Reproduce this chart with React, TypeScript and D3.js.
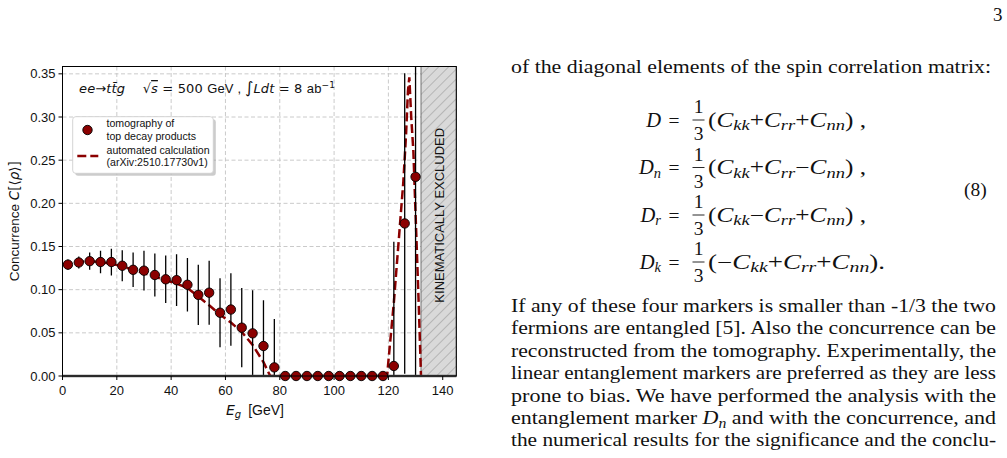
import React from 'react';
import * as d3 from 'd3';

// ---------- data ----------
const binCenters = [2, 6, 10, 14, 18, 22, 26, 30, 34, 38, 42, 46, 50, 54, 58, 62, 66, 70, 74, 78,
  82, 86, 90, 94, 98, 102, 106, 110, 114, 118, 122, 126, 130];
const concurrence = [0.129, 0.1315, 0.133, 0.132, 0.132, 0.1277, 0.123, 0.122, 0.117, 0.112, 0.111, 0.1057,
  0.094, 0.0965, 0.0733, 0.077, 0.056, 0.0494, 0.0347, 0.010,
  0, 0, 0, 0, 0, 0, 0, 0, 0, 0, 0.0116, 0.1767, 0.2307];
const uncertainty = [0.006, 0.007, 0.010, 0.013, 0.0155, 0.018, 0.020, 0.023, 0.025, 0.0275, 0.030, 0.031,
  0.035, 0.037, 0.040, 0.042, 0.046, 0.050, 0.053, 0.056,
  0, 0, 0, 0, 0, 0, 0, 0, 0, 0, 0.144, 0.174, 0.30];
const theoryE = [0, 2, 6, 10, 14, 18, 22, 26, 30, 34, 38, 42, 46, 50, 54, 58, 62, 66, 70, 74, 76.5, 80,
  119.5, 122, 124, 125.5, 126.5, 127.2, 127.7, 128.4, 129.2, 130.2, 131.2, 132];
const theoryC = [0.129, 0.130, 0.132, 0.133, 0.132, 0.130, 0.127, 0.123, 0.119, 0.115, 0.111, 0.107, 0.102,
  0.092, 0.082, 0.071, 0.062, 0.051, 0.036, 0.016, 0, 0,
  0, 0.085, 0.165, 0.225, 0.28, 0.33, 0.346, 0.30, 0.26, 0.17, 0.08, 0];
const xTicks = [0, 20, 40, 60, 80, 100, 120, 140];
const yTicks = [0, 0.05, 0.1, 0.15, 0.2, 0.25, 0.3, 0.35];
const xDomain = [0, 145];
const yDomain = [0, 0.3585];
const exclusionStart = 132;

const paraLines = [
  'If any of these four markers is smaller than -1/3 the two',
  'fermions are entangled [5]. Also the concurrence can be',
  'reconstructed from the tomography. Experimentally, the',
  'linear entanglement markers are preferred as they are less',
  'prone to bias. We have performed the analysis with the',
  'ENTANGLE',
  'the numerical results for the significance and the conclu-',
];

const eqRows = [
  { sub: '', terms: ['', '+', '+'], end: ' ,' },
  { sub: 'n', terms: ['', '+', '\u2212'], end: ' ,' },
  { sub: 'r', terms: ['', '\u2212', '+'], end: ' ,' },
  { sub: 'k', terms: ['\u2212', '+', '+'], end: '.' },
];
const eqSubs = ['kk', 'rr', 'nn'];

// ---------- layout ----------
const W = 1007, H = 458;
const plot = { left: 62.5, right: 456.3, top: 66.5, bottom: 376 };
const SANS = '"Liberation Sans", Arial, sans-serif';
const MATH = '"DejaVu Sans", sans-serif';
const SERIF = '"Liberation Serif", "Times New Roman", serif';
const RED = '#8b0000';

export default function App() {
  const x = d3.scaleLinear().domain(xDomain).range([plot.left, plot.right]);
  const y = d3.scaleLinear().domain(yDomain).range([plot.bottom, plot.top]);
  const line = d3.line<number>().x((_, i) => x(theoryE[i])).y((d) => y(d));
  const clamp = (v: number) => Math.max(plot.top, Math.min(plot.bottom, v));

  const rowBase = [126.5, 174, 221.5, 268.5];
  const serifSize = 19.5;
  const eqSize = 20.5;
  const eqWidths = [158, 158, 158, 177];

  return (
    <svg width={W} height={H} style={{ position: 'absolute', left: 0, top: 0, background: '#fff' }}>
      <defs>
        <pattern id="hatch" patternUnits="userSpaceOnUse" width="7" height="7" patternTransform="rotate(45)">
          <rect width="7" height="7" fill="#d9d9d9" />
          <line x1="0" y1="0" x2="0" y2="7" stroke="#8a8a8a" strokeWidth="0.9" />
        </pattern>
        <clipPath id="plotclip">
          <rect x={plot.left} y={plot.top} width={plot.right - plot.left} height={plot.bottom - plot.top} />
        </clipPath>
      </defs>

      {/* grid */}
      <g stroke="#c4c4c4" strokeWidth={0.9} strokeDasharray="4,2.5">
        {xTicks.filter((t) => t > 0).map((t) => (
          <line key={'gx' + t} x1={x(t)} x2={x(t)} y1={plot.top} y2={plot.bottom} />
        ))}
        {yTicks.filter((t) => t > 0).map((t) => (
          <line key={'gy' + t} x1={plot.left} x2={plot.right} y1={y(t)} y2={y(t)} />
        ))}
      </g>

      {/* excluded region */}
      <rect x={x(exclusionStart)} y={plot.top} width={plot.right - x(exclusionStart)} height={plot.bottom - plot.top}
        fill="url(#hatch)" stroke="#555" strokeWidth={0.8} />
      <text transform={`translate(${(x(exclusionStart) + plot.right) / 2 + 5},${(plot.top + plot.bottom) / 2 - 6}) rotate(-90)`}
        textAnchor="middle" fontFamily={SANS} fontSize={13} fill="#111">KINEMATICALLY EXCLUDED</text>

      {/* theory */}
      <g clipPath="url(#plotclip)">
        <path d={line(theoryC) || ''} fill="none" stroke={RED} strokeWidth={2.5} strokeDasharray="9,4" />
        {/* error bars */}
        {binCenters.map((e, i) => uncertainty[i] > 0 ? (
          <line key={'eb' + i} x1={x(e)} x2={x(e)} y1={clamp(y(concurrence[i] - uncertainty[i]))}
            y2={clamp(y(concurrence[i] + uncertainty[i]))} stroke="#000" strokeWidth={1.3} />
        ) : null)}
      </g>

      {/* bottom zero line */}
      <line x1={plot.left} x2={plot.right} y1={y(0)} y2={y(0)} stroke="#555" strokeWidth={2.4} />

      {/* markers */}
      {binCenters.map((e, i) => (
        <circle key={'m' + i} cx={x(e)} cy={y(concurrence[i])} r={4.7} fill={RED} stroke="#000" strokeWidth={0.9} />
      ))}

      {/* spines */}
      <rect x={plot.left} y={plot.top} width={plot.right - plot.left} height={plot.bottom - plot.top}
        fill="none" stroke="#000" strokeWidth={1} />

      {/* ticks */}
      {yTicks.map((t) => (
        <g key={'yt' + t}>
          <line x1={plot.left - 4} x2={plot.left} y1={y(t)} y2={y(t)} stroke="#000" strokeWidth={1} />
          <text x={plot.left - 7} y={y(t) + 4.5} textAnchor="end" fontFamily={SANS} fontSize={13} fill="#111">
            {t.toFixed(2)}
          </text>
        </g>
      ))}
      {xTicks.map((t) => (
        <g key={'xt' + t}>
          <line x1={x(t)} x2={x(t)} y1={plot.bottom} y2={plot.bottom + 4} stroke="#000" strokeWidth={1} />
          <text x={x(t)} y={plot.bottom + 19} textAnchor="middle" fontFamily={SANS} fontSize={13} fill="#111">{t}</text>
        </g>
      ))}

      {/* axis labels */}
      <text x={226} y={415} fontFamily={SANS} fontSize={14} fill="#111">
        <tspan fontFamily={MATH} fontStyle="italic">E</tspan>
        <tspan fontFamily={MATH} fontStyle="italic" fontSize={10} dy={3}>g</tspan>
        <tspan dy={-3}>{'\u2002[GeV]'}</tspan>
      </text>
      <text transform={`translate(19,${(plot.top + plot.bottom) / 2}) rotate(-90)`} textAnchor="middle"
        fontFamily={SANS} fontSize={13.5} fill="#111">
        <tspan>Concurrence </tspan>
        <tspan fontFamily={MATH} fontStyle="italic">C</tspan>
        <tspan fontFamily={MATH}>[⟨</tspan>
        <tspan fontFamily={MATH} fontStyle="italic">ρ</tspan>
        <tspan fontFamily={MATH}>⟩]</tspan>
      </text>

      {/* annotation */}
      <text x={79} y={93} fontFamily={MATH} fontSize={13} fill="#111" textLength={256} lengthAdjust="spacing">
        <tspan fontStyle="italic">ee</tspan>
        <tspan>→</tspan>
        <tspan fontStyle="italic">t</tspan>
        <tspan fontStyle="italic">t̄</tspan>
        <tspan fontStyle="italic">g</tspan>
        <tspan>{'\u2003 \u221A'}</tspan>
        <tspan fontStyle="italic" textDecoration="overline">s</tspan>
        <tspan>{' = 500 '}</tspan>
        <tspan fontFamily={SANS}>GeV , </tspan>
        <tspan fontSize={16}>∫</tspan>
        <tspan fontStyle="italic">Ldt</tspan>
        <tspan>{' = 8 '}</tspan>
        <tspan fontFamily={SANS}>ab</tspan>
        <tspan fontSize={9} dy={-5}>−1</tspan>
      </text>

      {/* legend */}
      <rect x={75.2} y={119.2} width={140.6} height={56.6} rx={3} fill="#999" opacity={0.5} />
      <rect x={72.7} y={116.7} width={140.6} height={56.6} rx={3} fill="#fff" stroke="#d0d0d0" strokeWidth={0.9} />
      <circle cx={87.5} cy={130} r={4.7} fill={RED} stroke="#000" strokeWidth={0.9} />
      <line x1={77.3} x2={98.3} y1={156} y2={156} stroke={RED} strokeWidth={2.5} strokeDasharray="9,4" />
      <g fontFamily={SANS} fontSize={10.6} fill="#111">
        <text x={106.5} y={127}>tomography of</text>
        <text x={106.5} y={139.5}>top decay products</text>
        <text x={106.5} y={153.5}>automated calculation</text>
        <text x={106.5} y={166}>(arXiv:2510.17730v1)</text>
      </g>

      {/* page number */}
      <text x={993} y={21} fontFamily={SERIF} fontSize={19} fill="#111">3</text>

      {/* text */}
      <text x={511} y={73} fontFamily={SERIF} fontSize={serifSize} fill="#111" textLength={480} lengthAdjust="spacingAndGlyphs">
        of the diagonal elements of the spin correlation matrix:
      </text>

      {eqRows.map((r, k) => {
        const b = rowBase[k];
        return (
          <g key={'eq' + k} fontFamily={SERIF} fill="#111">
            <text x={661} y={b} textAnchor="end" fontSize={eqSize}>
              <tspan fontStyle="italic">D</tspan>
              {r.sub ? <tspan fontStyle="italic" fontSize={14.5} dy={3.5}>{r.sub}</tspan> : null}
            </text>
            <text x={668.5} y={b} fontSize={serifSize}>=</text>
            <text x={698.5} y={b - 13.5} textAnchor="middle" fontSize={serifSize}>1</text>
            <line x1={692.5} x2={704.5} y1={b - 6.5} y2={b - 6.5} stroke="#111" strokeWidth={0.9} />
            <text x={698.5} y={b + 13.5} textAnchor="middle" fontSize={serifSize}>3</text>
            <text x={708} y={b} fontSize={eqSize} textLength={eqWidths[k]} lengthAdjust="spacingAndGlyphs">
              <tspan>(</tspan>
              {r.terms.map((s, j) => (
                <React.Fragment key={j}>
                  {s ? <tspan dy={j > 0 ? -3.5 : 0}>{s}</tspan> : null}
                  <tspan fontStyle="italic" dy={s && j > 0 ? 0 : j > 0 ? -3.5 : 0}>C</tspan>
                  <tspan fontStyle="italic" fontSize={15} dy={3.5}>{eqSubs[j]}</tspan>
                </React.Fragment>
              ))}
              <tspan dy={-3.5}>{')' + r.end}</tspan>
            </text>
          </g>
        );
      })}
      <text x={964} y={196} fontFamily={SERIF} fontSize={serifSize} fill="#111">(8)</text>

      {paraLines.map((l, i) => {
        const yy = 312 + i * 22.4;
        if (l === 'ENTANGLE') {
          return (
            <text key={'p' + i} x={511} y={yy} fontFamily={SERIF} fontSize={serifSize} fill="#111"
              textLength={485} lengthAdjust="spacingAndGlyphs">
              <tspan>entanglement marker </tspan>
              <tspan fontStyle="italic">D</tspan>
              <tspan fontStyle="italic" fontSize={14} dy={3.5}>n</tspan>
              <tspan dy={-3.5}> and with the concurrence, and</tspan>
            </text>
          );
        }
        return (
          <text key={'p' + i} x={511} y={yy} fontFamily={SERIF} fontSize={serifSize} fill="#111"
            textLength={485} lengthAdjust="spacingAndGlyphs">{l}</text>
        );
      })}
    </svg>
  );
}
